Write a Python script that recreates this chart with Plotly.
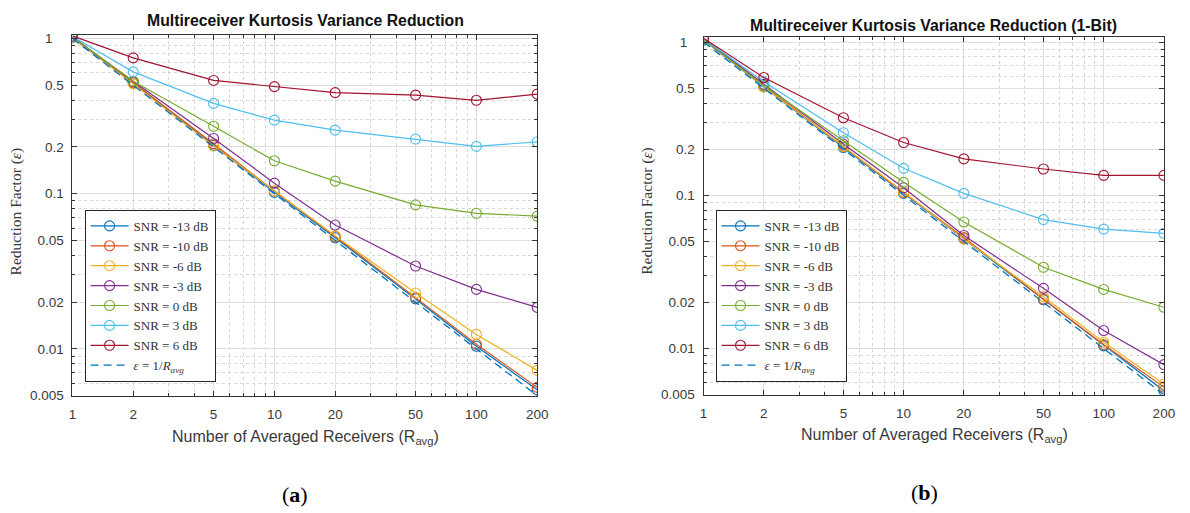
import plotly.graph_objects as go

# averaged receivers (x axis, log)
receivers = [1, 2, 5, 10, 20, 50, 100, 200]

# (a) full-resolution kurtosis, reduction factor per SNR
a_m13 = [1.02, 0.52, 0.205, 0.102, 0.052, 0.021, 0.0104, 0.00545]
a_m10 = [1.03, 0.52, 0.21, 0.104, 0.053, 0.0214, 0.0107, 0.00565]
a_m6 = [1.01, 0.51, 0.203, 0.104, 0.0535, 0.0229, 0.0124, 0.00727]
a_m3 = [1.02, 0.53, 0.227, 0.117, 0.0628, 0.0342, 0.0242, 0.0185]
a_0 = [1.02, 0.53, 0.272, 0.163, 0.1205, 0.0848, 0.0748, 0.0717]
a_3 = [1.03, 0.61, 0.382, 0.298, 0.257, 0.225, 0.202, 0.216]
a_6 = [1.04, 0.75, 0.537, 0.49, 0.448, 0.432, 0.40, 0.438]

# (b) 1-bit kurtosis
b_m13 = [1.03, 0.51, 0.205, 0.103, 0.052, 0.0208, 0.0104, 0.0053]
b_m10 = [1.04, 0.52, 0.21, 0.104, 0.053, 0.021, 0.0106, 0.0056]
b_m6 = [1.04, 0.51, 0.208, 0.105, 0.0518, 0.0218, 0.011, 0.00586]
b_m3 = [1.05, 0.53, 0.216, 0.112, 0.0547, 0.0247, 0.0131, 0.00785]
b_0 = [1.03, 0.52, 0.227, 0.1215, 0.067, 0.0339, 0.0243, 0.0186]
b_3 = [1.05, 0.55, 0.256, 0.150, 0.103, 0.0694, 0.0602, 0.0565]
b_6 = [1.06, 0.587, 0.321, 0.221, 0.173, 0.1485, 0.135, 0.135]

# epsilon = 1/R_avg reference
ideal = [1, 0.5, 0.2, 0.1, 0.05, 0.02, 0.01, 0.005]

snr_names = ["SNR = -13 dB", "SNR = -10 dB", "SNR = -6 dB", "SNR = -3 dB",
             "SNR = 0 dB", "SNR = 3 dB", "SNR = 6 dB"]
x_ticks = [1, 2, 5, 10, 20, 50, 100, 200]
y_ticks = [0.005, 0.01, 0.02, 0.05, 0.1, 0.2, 0.5, 1]
y_ticktext = ["0.005", "0.01", "0.02", "0.05", "0.1", "0.2", "0.5", "1"]

colors = ["#0072BD", "#D95319", "#EDB120", "#7E2F8E", "#77AC30", "#4DBEEE", "#A2142F"]

W, H = 1190, 513

fig = go.Figure()

panels = [
    ("x", "y", "legend", [a_m13, a_m10, a_m6, a_m3, a_0, a_3, a_6]),
    ("x2", "y2", "legend2", [b_m13, b_m10, b_m6, b_m3, b_0, b_3, b_6]),
]
for xa, ya, leg, series in panels:
    for name, vals, col in zip(snr_names, series, colors):
        fig.add_trace(go.Scatter(
            x=receivers, y=vals, name=name, mode="lines+markers",
            xaxis=xa, yaxis=ya, legend=leg,
            line=dict(color=col, width=1.2),
            marker=dict(symbol="circle-open", size=10, color=col, line=dict(width=1.1))))
    fig.add_trace(go.Scatter(
        x=receivers, y=ideal, name="<i>ε</i> = 1/<i>R<sub>avg</sub></i>", mode="lines",
        xaxis=xa, yaxis=ya, legend=leg,
        line=dict(color="#0072BD", width=1.3, dash="8px,5px")))

tick_font = dict(family="Liberation Sans", size=13.5, color="#3a3a3a")
x_minor = [m * 10 ** e for e in range(0, 3) for m in (3, 4, 6, 7, 8, 9)]
y_minor = [m * 10.0 ** e for e in range(-3, 1) for m in (3, 4, 6, 7, 8, 9)] + [0.006, 0.007, 0.008, 0.009]

def xaxis(domain, anchor):
    return dict(type="log", domain=domain, anchor=anchor, range=[0, 2.30103],
                tickvals=x_ticks, ticktext=[str(v) for v in x_ticks],
                ticks="inside", ticklen=5, tickcolor="#333", tickfont=tick_font,
                ticklabelstandoff=6,
                showline=True, linecolor="#333", linewidth=1, mirror="ticks",
                showgrid=True, gridcolor="#dedede", gridwidth=1, zeroline=False,
                minor=dict(tickvals=x_minor, ticks="inside", ticklen=3, tickcolor="#333",
                           showgrid=True, gridcolor="#d6d6d6", griddash="dot", gridwidth=1))

def yaxis(domain, anchor, top, one_label):
    text = y_ticktext[:-1] + [one_label]
    return dict(type="log", domain=domain, anchor=anchor, range=[-2.30103, top],
                tickvals=y_ticks, ticktext=text,
                ticks="inside", ticklen=5, tickcolor="#333", tickfont=tick_font,
                ticklabelstandoff=5,
                showline=True, linecolor="#333", linewidth=1, mirror="ticks",
                showgrid=True, gridcolor="#dedede", gridwidth=1, zeroline=False,
                minor=dict(tickvals=y_minor, ticks="inside", ticklen=3, tickcolor="#333",
                           showgrid=True, gridcolor="#d6d6d6", griddash="dot", gridwidth=1))

legend_style = dict(xanchor="left", yanchor="bottom", bgcolor="white",
                    bordercolor="#262626", borderwidth=1, tracegroupgap=0, itemwidth=38,
                    font=dict(family="Liberation Serif", size=13, color="#333"))

fig.update_layout(
    width=W, height=H,
    margin=dict(l=0, r=0, t=0, b=0),
    paper_bgcolor="white", plot_bgcolor="white",
    xaxis=xaxis([69.3 / W, 540 / W], "y"),
    yaxis=yaxis([1 - 401 / H, 1 - 31.7 / H], "x", 0.023, "1\u00a0\u00a0\u00a0"),
    xaxis2=xaxis([708.5 / W, 1174.7 / W], "y2"),
    yaxis2=yaxis([1 - 400 / H, 1 - 34.3 / H], "x2", 0.03, "1\u00a0\u00a0"),
    legend=dict(x=81.6 / W, y=1 - 387 / H, **legend_style),
    legend2=dict(x=720.6 / W, y=1 - 387 / H, **legend_style),
)

title_font = dict(family="Liberation Sans", size=15.8, color="#111")
label_font = dict(family="Liberation Sans", size=16, color="#3a3a3a")
ylab_font = dict(family="Liberation Serif", size=15.5, color="#3a3a3a")
panel_font = dict(family="Liberation Serif", size=22, color="#000")

annos = [
    dict(x=305 / W, y=1 - 17.3 / H, text="<b>Multireceiver Kurtosis Variance Reduction</b>", font=title_font),
    dict(x=941.7 / W, y=1 - 21.7 / H, text="<b>Multireceiver Kurtosis Variance Reduction (1-Bit)</b>", font=title_font),
    dict(x=305 / W, y=1 - 444 / H, text="Number of Averaged Receivers (R<sub>avg</sub>)", font=label_font),
    dict(x=942 / W, y=1 - 442 / H, text="Number of Averaged Receivers (R<sub>avg</sub>)", font=label_font),
    dict(x=12.5 / W, y=1 - 212 / H, text="Reduction Factor (<i>ε</i>)", font=ylab_font, textangle=-90),
    dict(x=651 / W, y=1 - 212 / H, text="Reduction Factor (<i>ε</i>)", font=ylab_font, textangle=-90),
    dict(x=294.5 / W, y=1 - 502 / H, text="(<b>a</b>)", font=panel_font),
    dict(x=932.5 / W, y=1 - 500 / H, text="(<b>b</b>)", font=panel_font),
]
for a in annos:
    fig.add_annotation(xref="paper", yref="paper", showarrow=False,
                       xanchor="center", yanchor="middle", **a)

# the page body has a default 8px margin; drop it so the figure fills the window
fig.write_html("out.html", config={"displayModeBar": False},
               post_script="document.body.style.margin='0';document.body.style.overflow='hidden';")
